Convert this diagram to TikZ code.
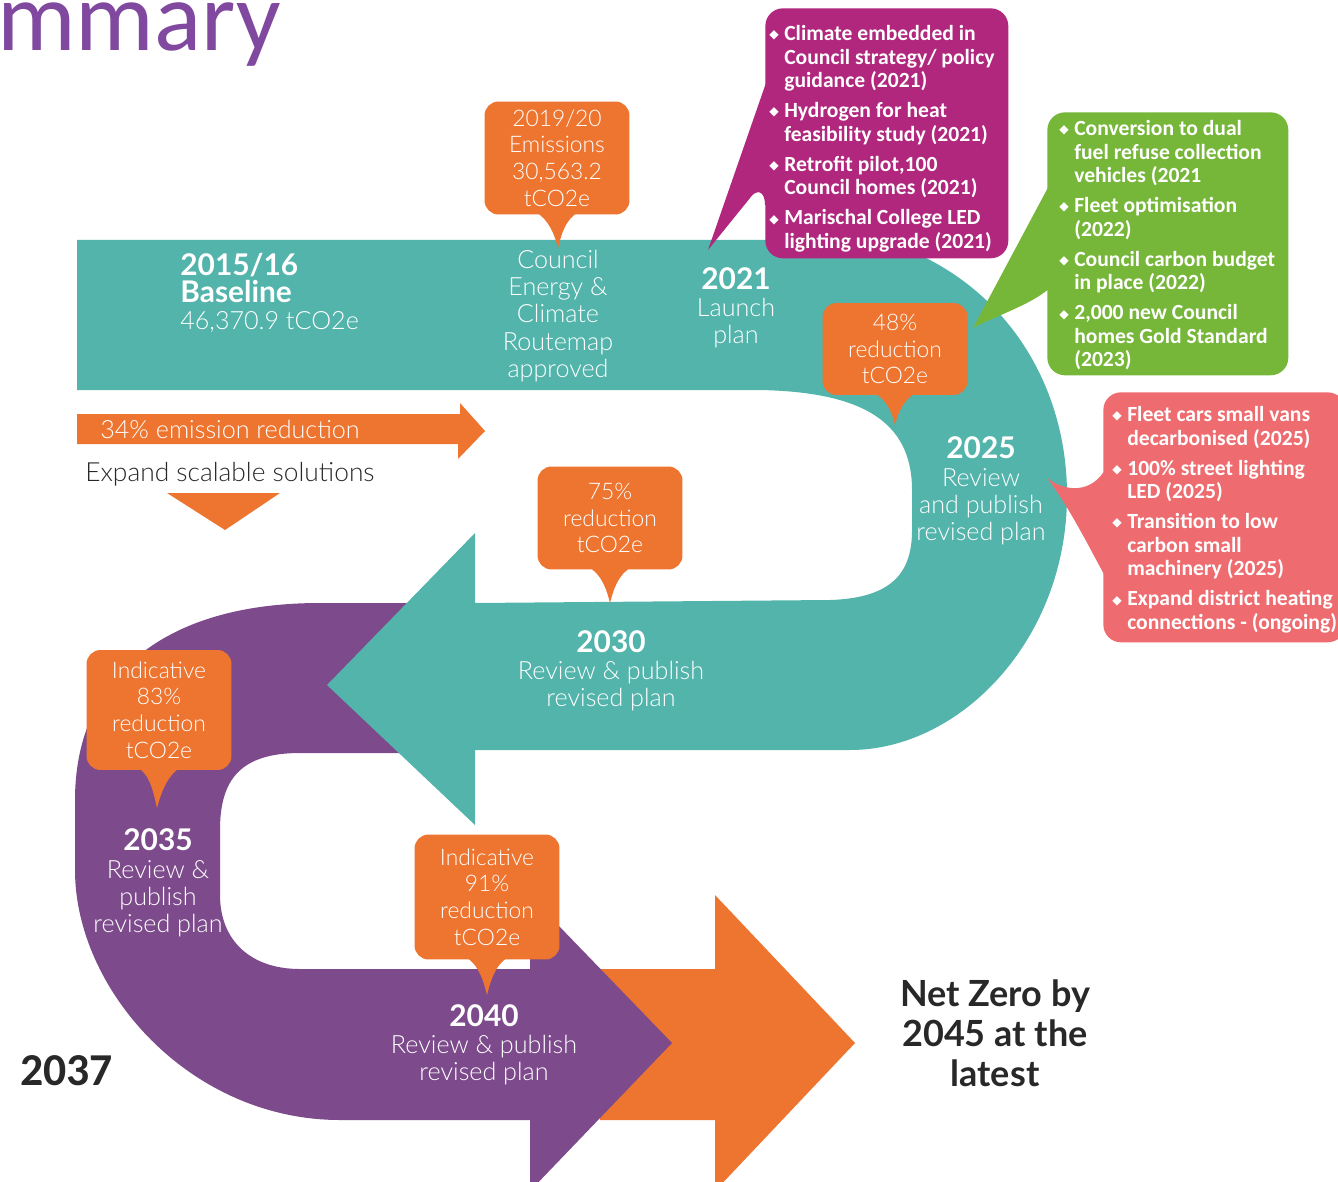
\documentclass[tikz,border=0pt]{standalone}
\usepackage{fontspec}
\IfFontExistsTF{Lato Light}{\setmainfont{Lato Light}[BoldFont={Lato Bold}]}{\setmainfont{Lato}}
\newfontfamily\condfont{Carlito}
\newfontfamily\symfont{DejaVu Sans}
\usetikzlibrary{positioning,calc}

\definecolor{tealband}{RGB}{82,180,170}
\definecolor{orangebox}{RGB}{237,117,48}
\definecolor{purpleband}{RGB}{125,75,140}
\definecolor{magentabox}{RGB}{176,39,125}
\definecolor{greenbox}{RGB}{118,183,58}
\definecolor{pinkbox}{RGB}{238,108,112}
\definecolor{titlepurple}{RGB}{128,72,158}
\definecolor{darktext}{RGB}{40,40,40}

\newcommand\yr[1]{{\bfseries\fontsize{17}{16}\selectfont #1}}
\newcommand\bitem{\makebox[8.5pt][l]{\raisebox{1pt}{\symfont\fontsize{7}{7}\selectfont ◆}}}
\newcommand\bcont{\hspace*{8.5pt}}

\tikzset{
  bubble/.style={fill=orangebox, text=white, rounded corners=8pt, inner sep=0pt,
    minimum width=2.9cm, align=center, font=\fontsize{13}{15.2}\selectfont},
  listbox/.style={fill=#1, rounded corners=10pt, inner sep=0pt, anchor=north west},
  listtext/.style={text=white, align=left, inner sep=0pt, anchor=north west,
    font=\condfont\bfseries\fontsize{12.3}{13.4}\selectfont},
  bandtext/.style={text=white, align=center, inner sep=0pt, font=\fontsize{14.3}{15.5}\selectfont},
}

\begin{document}
\begin{tikzpicture}[x=0.02cm, y=-0.02cm]
\useasboundingbox (0,0) rectangle (1338,1182);

\node[anchor=base west, inner sep=0pt, text=titlepurple, font=\condfont\fontsize{56}{56}\selectfont] (title) at (-3,51) {mmary};

% big arrows, back to front
\fill[orangebox] (600,969) -- (715,969) -- (715,895) -- (855,1043) -- (715,1191) -- (715,1120) -- (600,1120) -- cycle;
\fill[purpleband] (420,603) -- (320,603) .. controls (160,603) and (75,680) .. (75,800) -- (75,870)
  .. controls (75,990) and (190,1120) .. (340,1120) -- (530,1120) -- (530,1191) -- (672,1043) -- (530,896) -- (530,969)
  -- (300,969) .. controls (250,969) and (220,940) .. (220,895) -- (220,830) .. controls (220,780) and (240,753) .. (300,753)
  -- (420,753) -- cycle;
\fill[tealband] (77,240) -- (880,240) .. controls (1000,275) and (1067,380) .. (1067,495)
  .. controls (1067,640) and (960,750) .. (850,750) -- (475,750) -- (475,825) -- (327,685) -- (475,533) -- (475,603)
  -- (830,600) .. controls (895,598) and (912,570) .. (912,530) -- (912,490) .. controls (912,420) and (860,392) .. (760,390)
  -- (77,390) -- cycle;

% first step
\fill[orangebox] (77,414) -- (460,414) -- (460,403) -- (485,431) -- (458,459) -- (458,444) -- (77,444) -- cycle;
\node[anchor=west, inner sep=0pt, text=white, font=\fontsize{14.3}{15}\selectfont] (reduce) at (100,429) {34\% emission reduction};
\node[anchor=west, inner sep=0pt, text=darktext, font=\fontsize{15}{16}\selectfont] (expand) at (85,474) {Expand scalable solutions};
\fill[orangebox] (167,493) -- (280,493) -- (225,530) -- cycle;

% labels on the bands
\node[bandtext, anchor=west, align=left] (base) at (180,293) {\yr{2015/16}\\\yr{Baseline}\\46,370.9 tCO2e};
\node[bandtext] (council) at (558,316) {Council\\Energy \&\\Climate\\Routemap\\approved};
\node[bandtext] (l2021) at (736,308) {\yr{2021}\\Launch\\plan};
\node[bandtext] (l2025) at (981,491) {\yr{2025}\\Review\\and publish\\revised plan};
\node[bandtext] (l2030) at (611,671) {\yr{2030}\\Review \& publish\\revised plan};
\node[bandtext] (l2035) at (158,883) {\yr{2035}\\Review \&\\publish\\revised plan};
\node[bandtext] (l2040) at (484,1045) {\yr{2040}\\Review \& publish\\revised plan};

\node[anchor=west, inner sep=0pt, text=darktext, font=\condfont\bfseries\fontsize{26}{26}\selectfont] (y2037) at (20,1071) {2037};
\node[align=center, inner sep=0pt, text=darktext, font=\bfseries\fontsize{20.5}{22.8}\selectfont] (netzero) at (995,1033) {Net Zero by\\2045 at the\\latest};

% orange callouts
\foreach \bname/\bx/\by/\bh/\tx/\ty/\btext in {
    b2019/557/158/2.26/558/248/{2019/20\\Emissions\\30,563.2\\tCO2e},
    b48/895/349/1.84/895/425/{48\%\\reduction\\tCO2e},
    b75/610/518/2.06/610/603/{75\%\\reduction\\tCO2e},
    b83/159/710/2.4/157/808/{Indicative\\83\%\\reduction\\tCO2e},
    b91/487/897/2.5/487/995/{Indicative\\91\%\\reduction\\tCO2e}} {
  \node[bubble, minimum height=\bh cm] (\bname) at (\bx,\by) {\btext};
  \coordinate (\bname-tip) at (\tx,\ty);
  \fill[orangebox] ($(\bname.south)+(-22,-3)$) .. controls ($(\bname.south)+(-8,4)$) and ($(\bname-tip)+(-3,-12)$) .. (\bname-tip)
    .. controls ($(\bname-tip)+(3,-12)$) and ($(\bname.south)+(8,4)$) .. ($(\bname.south)+(22,-3)$) -- cycle;
}

% action lists
\node[listbox=magentabox, minimum width=4.86cm, minimum height=5cm] (mag) at (765,8) {};
\coordinate (magtip) at (708,250);
\fill[magentabox] (767,80) -- (magtip) -- (750,198) .. controls (756,189) and (765,190) .. (765,205) -- (770,205) -- cycle;
\node[listtext] (magtext) at ($(mag.north west)+(4,17)$) {\bitem Climate embedded in\\
  \bcont Council strategy/ policy\\
  \bcont guidance (2021)\\[3.7pt]
  \bitem Hydrogen for heat\\
  \bcont feasibility study (2021)\\[3.7pt]
  \bitem Retrofit pilot,100\\
  \bcont Council homes (2021)\\[3.7pt]
  \bitem Marischal College LED\\
  \bcont lighting upgrade (2021)};

\node[listbox=greenbox, minimum width=4.82cm, minimum height=5.26cm] (grn) at (1047,112) {};
\coordinate (grntip) at (973,328);
\fill[greenbox] (1052,180) -- (grntip) .. controls (1000,314) and (1030,305) .. (1050,288) -- cycle;
\node[listtext] (grntext) at ($(grn.north west)+(12,8)$) {\bitem Conversion to dual\\
  \bcont fuel refuse collection\\
  \bcont vehicles (2021\\[3.7pt]
  \bitem Fleet optimisation\\
  \bcont (2022)\\[3.7pt]
  \bitem Council carbon budget\\
  \bcont in place (2022)\\[3.7pt]
  \bitem 2,000 new Council\\
  \bcont homes Gold Standard\\
  \bcont (2023)};

\node[listbox=pinkbox, minimum width=4.84cm, minimum height=5cm] (pnk) at (1103,392) {};
\coordinate (pnktip) at (1047,478);
\fill[pinkbox] (pnktip) .. controls (1065,492) and (1092,494) .. (1106,468) -- (1106,578)
  .. controls (1088,545) and (1068,505) .. (pnktip) -- cycle;
\node[listtext] (pnktext) at ($(pnk.north west)+(9,14)$) {\bitem Fleet cars small vans\\
  \bcont decarbonised (2025)\\[3.7pt]
  \bitem 100\% street lighting\\
  \bcont LED (2025)\\[3.7pt]
  \bitem Transition to low\\
  \bcont carbon small\\
  \bcont machinery (2025)\\[3.7pt]
  \bitem Expand district heating\\
  \bcont connections - (ongoing)};
\end{tikzpicture}
\end{document}
